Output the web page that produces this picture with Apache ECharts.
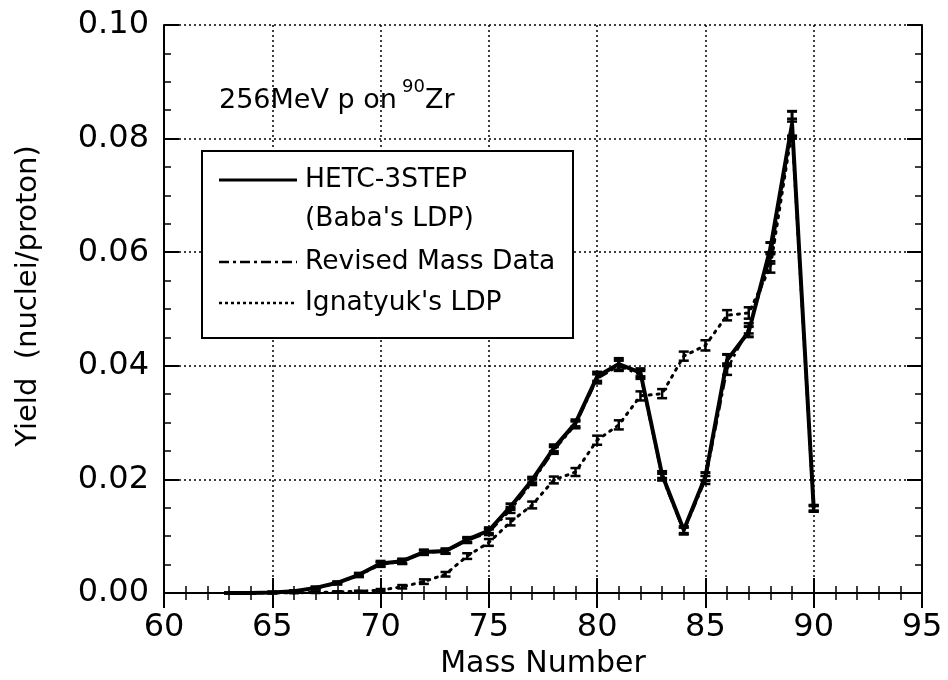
<!DOCTYPE html>
<html>
<head>
<meta charset="utf-8">
<script src="https://cdn.jsdelivr.net/npm/echarts@6/dist/echarts.min.js"></script>
<style>
  html, body { margin: 0; padding: 0; background: #fff; }
  #chart { width: 948px; height: 680px; }
</style>
</head>
<body>
<div id="chart"></div>
<script>
// Mass numbers of the residual nuclei
const massNumbers = [63, 64, 65, 66, 67, 68, 69, 70, 71, 72, 73, 74, 75, 76, 77,
                     78, 79, 80, 81, 82, 83, 84, 85, 86, 87, 88, 89, 90];

// HETC-3STEP (Baba's LDP)
const hetcYield = [0, 0, 0.0001, 0.0003, 0.0009, 0.0018, 0.0032, 0.0052, 0.0056, 0.0072, 0.0074, 0.0094, 0.0110, 0.0152, 0.0199,
                   0.0255, 0.0299, 0.0381, 0.0403, 0.0388, 0.0208, 0.0111, 0.0205, 0.0410, 0.0460, 0.0607, 0.0826, 0.0149];
const hetcError = [0, 0, 0.0001, 0.0001, 0.0002, 0.0002, 0.0003, 0.0004, 0.0004, 0.0004, 0.0004, 0.0004, 0.0005, 0.0005, 0.0005,
                   0.0006, 0.0006, 0.0008, 0.0010, 0.0007, 0.0006, 0.0006, 0.0007, 0.0010, 0.0009, 0.0010, 0.0022, 0.0005];

// Revised mass data
const revisedYield = [0, 0, 0.0001, 0.0003, 0.0008, 0.0017, 0.0031, 0.0050, 0.0055, 0.0071, 0.0073, 0.0092, 0.0107, 0.0146, 0.0195,
                      0.0251, 0.0296, 0.0377, 0.0400, 0.0384, 0.0204, 0.0109, 0.0199, 0.0394, 0.0466, 0.0590, 0.0820, 0.0150];
const revisedError = [0, 0, 0.0001, 0.0001, 0.0002, 0.0002, 0.0003, 0.0004, 0.0004, 0.0004, 0.0004, 0.0004, 0.0005, 0.0005, 0.0005,
                      0.0006, 0.0006, 0.0008, 0.0009, 0.0007, 0.0006, 0.0006, 0.0007, 0.0010, 0.0009, 0.0010, 0.0015, 0.0005];

// Ignatyuk's LDP
const ignatyukYield = [0, 0, 0, 0, 0.0001, 0.0002, 0.0003, 0.0005, 0.0011, 0.0020, 0.0033, 0.0065, 0.0089, 0.0125, 0.0155,
                       0.0199, 0.0213, 0.0269, 0.0296, 0.0347, 0.0351, 0.0417, 0.0436, 0.0489, 0.0493, 0.0574, 0.0815, 0.0148];
const ignatyukError = [0, 0, 0, 0, 0.0001, 0.0001, 0.0001, 0.0002, 0.0003, 0.0004, 0.0004, 0.0005, 0.0006, 0.0006, 0.0006,
                       0.0006, 0.0007, 0.0008, 0.0008, 0.0008, 0.0008, 0.0008, 0.0009, 0.0009, 0.0010, 0.0010, 0.0015, 0.0005];

// Axis ticks
const xTicks = [60, 65, 70, 75, 80, 85, 90, 95];
const yTicks = [0.00, 0.02, 0.04, 0.06, 0.08, 0.10];

const FONT = 'DejaVu Sans';

const toPairs = (ys) => massNumbers.map((m, i) => [m, ys[i]]);
const toErr = (ys, es) => massNumbers.map((m, i) => [m, ys[i] - es[i], ys[i] + es[i]]);

// Vertical error bar with caps at each mass number
function errorBars(name, ys, es, width) {
  return {
    type: 'custom',
    name: name,
    data: toErr(ys, es),
    z: 4,
    silent: true,
    renderItem: function (params, api) {
      const x = api.value(0);
      const lo = api.coord([x, api.value(1)]);
      const hi = api.coord([x, api.value(2)]);
      const w = 5;
      const style = { stroke: '#000', lineWidth: width };
      return {
        type: 'group',
        children: [
          { type: 'line', shape: { x1: lo[0], y1: lo[1], x2: hi[0], y2: hi[1] }, style: style },
          { type: 'line', shape: { x1: lo[0] - w, y1: lo[1], x2: lo[0] + w, y2: lo[1] }, style: style },
          { type: 'line', shape: { x1: hi[0] - w, y1: hi[1], x2: hi[0] + w, y2: hi[1] }, style: style }
        ]
      };
    }
  };
}

const axisLine = { show: true, lineStyle: { color: '#000', width: 2 } };
const axisTick = { show: true, inside: true, length: 15, lineStyle: { color: '#000', width: 2 } };
const minor = (n) => ({ show: true, splitNumber: n, length: 7, lineStyle: { color: '#000', width: 1.5 } });
const gridLine = { show: true, lineStyle: { color: '#000', width: 1.5, type: [2, 3] } };

const chart = echarts.init(document.getElementById('chart'), null, { renderer: 'canvas' });

const legendFont = '26.5px "DejaVu Sans"';

const option = {
  backgroundColor: '#fff',
  animation: false,
  grid: { left: 164, top: 25, right: 26, bottom: 87, containLabel: false, outerBoundsMode: 'none' },
  xAxis: [
    {
      type: 'value', position: 'bottom',
      min: xTicks[0], max: xTicks[xTicks.length - 1], interval: 5,
      axisLine: axisLine, axisTick: axisTick, minorTick: minor(5), splitLine: gridLine,
      axisLabel: { fontFamily: FONT, fontSize: 32, color: '#000', margin: 19 },
      name: 'Mass Number', nameLocation: 'middle', nameGap: 55,
      nameTextStyle: { fontFamily: FONT, fontSize: 30, color: '#000' }
    },
    {
      type: 'value', position: 'top',
      min: xTicks[0], max: xTicks[xTicks.length - 1], interval: 5,
      axisLine: axisLine, axisTick: axisTick, minorTick: minor(5),
      axisLabel: { show: false }, splitLine: { show: false }
    }
  ],
  yAxis: [
    {
      type: 'value', position: 'left',
      min: yTicks[0], max: yTicks[yTicks.length - 1], interval: 0.02,
      axisLine: axisLine, axisTick: axisTick, minorTick: minor(4), splitLine: gridLine,
      axisLabel: { fontFamily: FONT, fontSize: 32, color: '#000', margin: 15,
                   formatter: (v) => v.toFixed(2) }
    },
    {
      type: 'value', position: 'right',
      min: yTicks[0], max: yTicks[yTicks.length - 1], interval: 0.02,
      axisLine: axisLine, axisTick: axisTick, minorTick: minor(4),
      axisLabel: { show: false }, splitLine: { show: false }
    }
  ],
  series: [
    {
      type: 'line', name: "Ignatyuk's LDP", data: toPairs(ignatyukYield),
      symbol: 'none', z: 3,
      lineStyle: { color: '#000', width: 3, type: [2, 6], cap: 'round' }
    },
    {
      type: 'line', name: 'Revised Mass Data', data: toPairs(revisedYield),
      symbol: 'none', z: 3,
      lineStyle: { color: '#000', width: 2.5, type: [10, 4, 3, 4] }
    },
    {
      type: 'line', name: 'HETC-3STEP', data: toPairs(hetcYield),
      symbol: 'none', z: 5,
      lineStyle: { color: '#000', width: 4 }
    },
    errorBars('Ignatyuk err', ignatyukYield, ignatyukError, 2.5),
    errorBars('Revised err', revisedYield, revisedError, 2.5),
    errorBars('HETC err', hetcYield, hetcError, 3)
  ],
  graphic: [
    // y-axis title
    {
      type: 'text', x: 28, y: 296, rotation: Math.PI / 2,
      style: { text: 'Yield  (nuclei/proton)', font: '29px "DejaVu Sans"', fill: '#000',
               align: 'center', verticalAlign: 'middle' }
    },
    // reaction label
    {
      type: 'text', x: 219, y: 101,
      style: { text: '256MeV p on', font: '27px "DejaVu Sans"', fill: '#000', verticalAlign: 'middle' }
    },
    {
      type: 'text', x: 402, y: 87,
      style: { text: '90', font: '18px "DejaVu Sans"', fill: '#000', verticalAlign: 'middle' }
    },
    {
      type: 'text', x: 425, y: 101,
      style: { text: 'Zr', font: '27px "DejaVu Sans"', fill: '#000', verticalAlign: 'middle' }
    },
    // legend box
    {
      type: 'rect', shape: { x: 202, y: 151, width: 371, height: 187 },
      style: { fill: '#fff', stroke: '#000', lineWidth: 2 }, z: 10
    },
    {
      type: 'line', shape: { x1: 219, y1: 180, x2: 297, y2: 180 },
      style: { stroke: '#000', lineWidth: 3 }, z: 11
    },
    {
      type: 'line', shape: { x1: 219, y1: 262, x2: 297, y2: 262 },
      style: { stroke: '#000', lineWidth: 2.5, lineDash: [10, 4, 3, 4] }, z: 11
    },
    {
      type: 'line', shape: { x1: 219, y1: 303, x2: 297, y2: 303 },
      style: { stroke: '#000', lineWidth: 2.5, lineDash: [3, 3] }, z: 11
    },
    {
      type: 'text', x: 305, y: 180, z: 11,
      style: { text: 'HETC-3STEP', font: legendFont, fill: '#000', verticalAlign: 'middle' }
    },
    {
      type: 'text', x: 305, y: 219, z: 11,
      style: { text: "(Baba's LDP)", font: legendFont, fill: '#000', verticalAlign: 'middle' }
    },
    {
      type: 'text', x: 305, y: 262, z: 11,
      style: { text: 'Revised Mass Data', font: legendFont, fill: '#000', verticalAlign: 'middle' }
    },
    {
      type: 'text', x: 305, y: 303, z: 11,
      style: { text: "Ignatyuk's LDP", font: legendFont, fill: '#000', verticalAlign: 'middle' }
    }
  ]
};

chart.setOption(option);
</script>
</body>
</html>
